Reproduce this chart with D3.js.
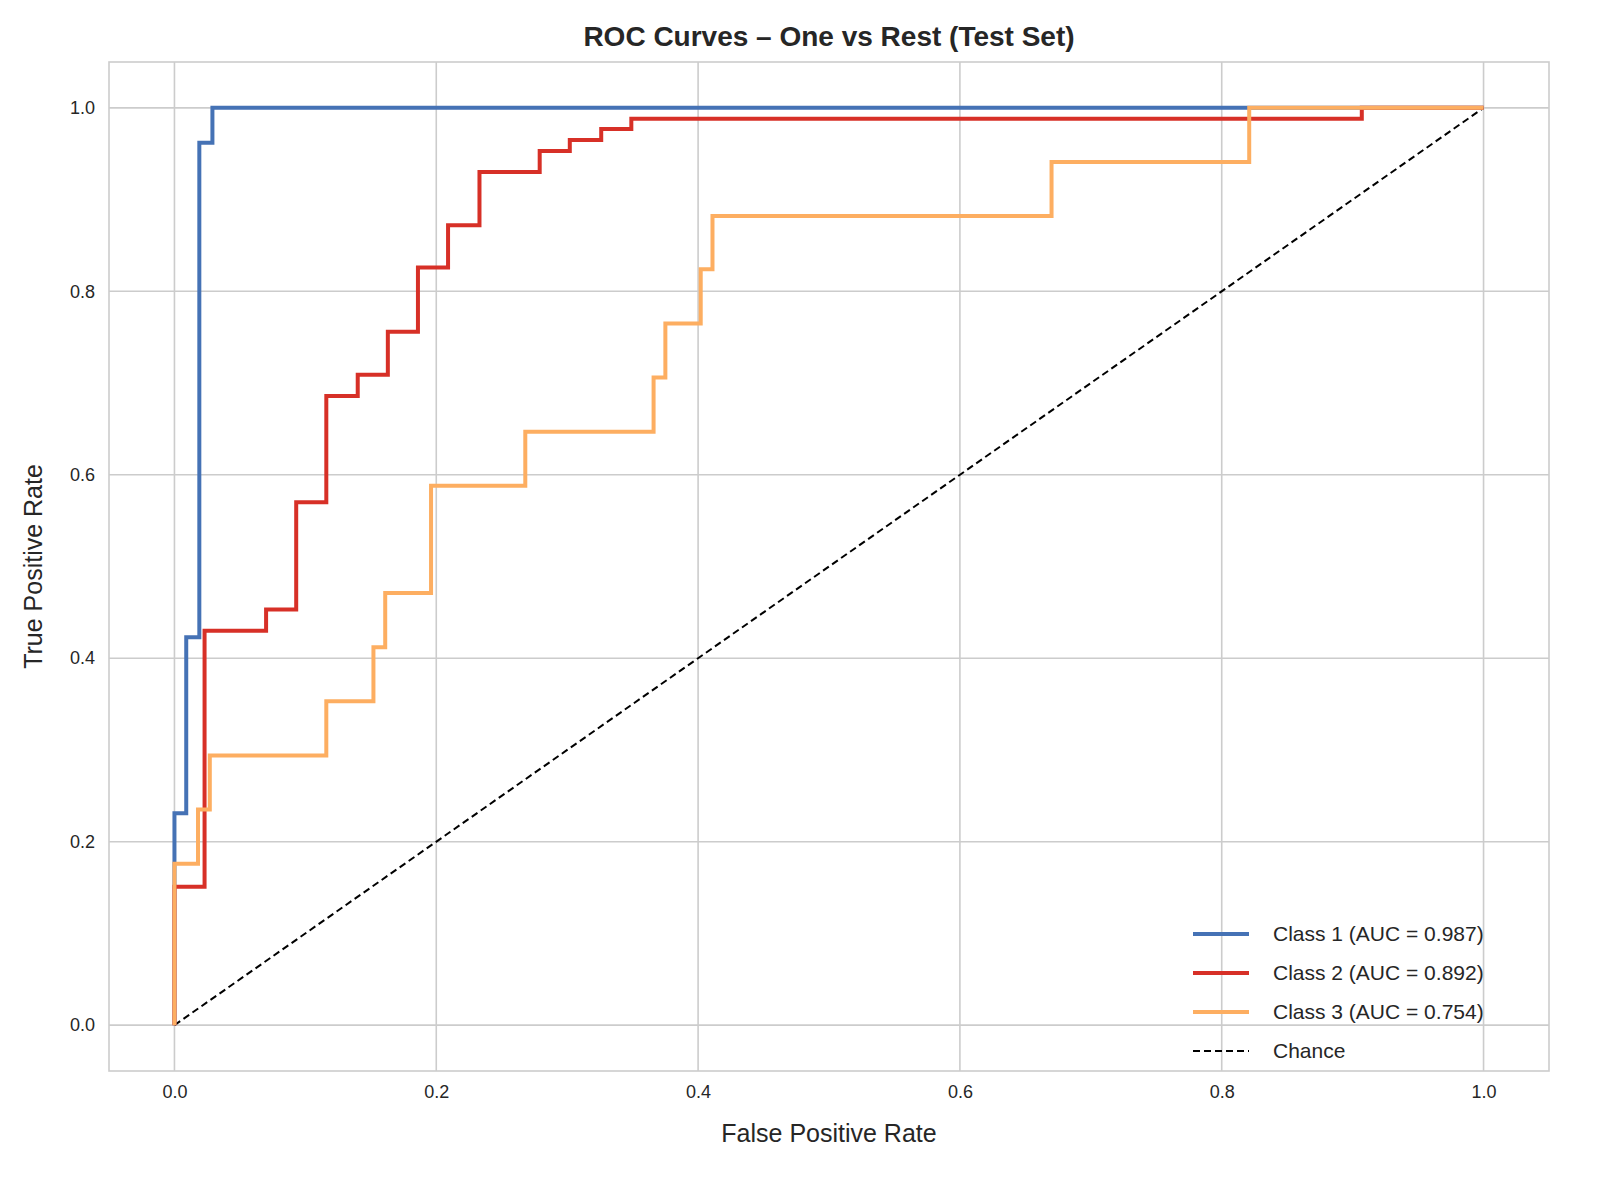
<!DOCTYPE html>
<html>
<head>
<meta charset="utf-8">
<script src="https://cdn.jsdelivr.net/npm/d3@7"></script>
<style>
  body { margin: 0; background: #fff; font-family: "Liberation Sans", Arial, sans-serif; }
</style>
</head>
<body>
<div id="chart"></div>
<script>
// ROC points
const fpr1 = [0, 0, 0.009, 0.009, 0.019, 0.019, 0.029, 0.029, 1];
const tpr1 = [0, 0.231, 0.231, 0.423, 0.423, 0.962, 0.962, 1, 1];

const fpr2 = [0, 0, 0.023, 0.023, 0.070, 0.070, 0.093, 0.093, 0.116, 0.116, 0.140, 0.140, 0.163, 0.163, 0.186, 0.186, 0.209, 0.209, 0.233, 0.233, 0.279, 0.279, 0.302, 0.302, 0.326, 0.326, 0.349, 0.349, 0.907, 0.907, 1];
const tpr2 = [0, 0.151, 0.151, 0.430, 0.430, 0.453, 0.453, 0.570, 0.570, 0.686, 0.686, 0.709, 0.709, 0.756, 0.756, 0.826, 0.826, 0.872, 0.872, 0.930, 0.930, 0.953, 0.953, 0.965, 0.965, 0.977, 0.977, 0.988, 0.988, 1, 1];

const fpr3 = [0, 0, 0.018, 0.018, 0.027, 0.027, 0.116, 0.116, 0.152, 0.152, 0.161, 0.161, 0.196, 0.196, 0.268, 0.268, 0.366, 0.366, 0.375, 0.375, 0.402, 0.402, 0.411, 0.411, 0.670, 0.670, 0.821, 0.821, 1];
const tpr3 = [0, 0.176, 0.176, 0.235, 0.235, 0.294, 0.294, 0.353, 0.353, 0.412, 0.412, 0.471, 0.471, 0.588, 0.588, 0.647, 0.647, 0.706, 0.706, 0.765, 0.765, 0.824, 0.824, 0.882, 0.882, 0.941, 0.941, 1, 1];

const seriesNames = ["Class 1 (AUC = 0.987)", "Class 2 (AUC = 0.892)", "Class 3 (AUC = 0.754)"];
const seriesColors = ["#4572b5", "#d73027", "#fdae61"];
const ticks = [0, 0.2, 0.4, 0.6, 0.8, 1.0];

const W = 1600, H = 1191;
const margin = { top: 62, right: 51, bottom: 120, left: 109 };
const width = W - margin.left - margin.right;
const height = H - margin.top - margin.bottom;

const svg = d3.select("#chart").append("svg")
  .attr("width", W).attr("height", H);

const g = svg.append("g")
  .attr("transform", "translate(" + margin.left + "," + margin.top + ")");

const x = d3.scaleLinear().domain([-0.05, 1.05]).range([0, width]);
const y = d3.scaleLinear().domain([-0.05, 1.05]).range([height, 0]);

// grid
g.selectAll(".gx").data(ticks).enter().append("line")
  .attr("x1", d => x(d)).attr("x2", d => x(d)).attr("y1", 0).attr("y2", height)
  .attr("stroke", "#cccccc").attr("stroke-width", 1.6);
g.selectAll(".gy").data(ticks).enter().append("line")
  .attr("y1", d => y(d)).attr("y2", d => y(d)).attr("x1", 0).attr("x2", width)
  .attr("stroke", "#cccccc").attr("stroke-width", 1.6);

g.append("rect").attr("width", width).attr("height", height)
  .attr("fill", "none").attr("stroke", "#cccccc").attr("stroke-width", 1.6);

// axes
const xAxis = g.append("g").attr("transform", "translate(0," + height + ")")
  .call(d3.axisBottom(x).tickValues(ticks).tickFormat(d3.format(".1f")).tickSize(0).tickPadding(14));
const yAxis = g.append("g")
  .call(d3.axisLeft(y).tickValues(ticks).tickFormat(d3.format(".1f")).tickSize(0).tickPadding(14));
[xAxis, yAxis].forEach(a => {
  a.attr("font-size", null).attr("font-family", null);
  a.select(".domain").remove();
  a.selectAll("text").style("font-size", "18px").style("fill", "#262626")
    .style("font-family", "Liberation Sans, Arial, sans-serif");
});

// chance line
g.append("line")
  .attr("x1", x(0)).attr("y1", y(0)).attr("x2", x(1)).attr("y2", y(1))
  .attr("stroke", "#000").attr("stroke-width", 2).attr("stroke-dasharray", "7,4");

const line = d3.line().x(d => x(d[0])).y(d => y(d[1]));
const series = [[fpr1, tpr1], [fpr2, tpr2], [fpr3, tpr3]];
series.forEach((s, i) => {
  const pts = s[0].map((f, j) => [f, s[1][j]]);
  g.append("path").datum(pts).attr("d", line)
    .attr("fill", "none").attr("stroke", seriesColors[i]).attr("stroke-width", 4);
});

// title and labels
svg.append("text").attr("x", margin.left + width / 2).attr("y", 46)
  .attr("text-anchor", "middle").attr("font-size", 28).attr("font-weight", "bold")
  .attr("fill", "#262626").text("ROC Curves – One vs Rest (Test Set)");
svg.append("text").attr("x", margin.left + width / 2).attr("y", 1142)
  .attr("text-anchor", "middle").attr("font-size", 25).attr("fill", "#262626")
  .text("False Positive Rate");
svg.append("text").attr("transform", "translate(42," + (margin.top + height / 2) + ") rotate(-90)")
  .attr("text-anchor", "middle").attr("font-size", 25).attr("fill", "#262626")
  .text("True Positive Rate");

// legend
const legNames = seriesNames.concat(["Chance"]);
const legColors = seriesColors.concat(["#000"]);
const leg = svg.append("g").attr("transform", "translate(1193,934)");
legNames.forEach((n, i) => {
  const row = leg.append("g").attr("transform", "translate(0," + (i * 39) + ")");
  row.append("line").attr("x1", 0).attr("x2", 56).attr("y1", 0).attr("y2", 0)
    .attr("stroke", legColors[i]).attr("stroke-width", i === 3 ? 2 : 4)
    .attr("stroke-dasharray", i === 3 ? "7,4" : null);
  row.append("text").attr("x", 80).attr("y", 7).attr("font-size", 21)
    .attr("fill", "#262626").text(n);
});
</script>
</body>
</html>
